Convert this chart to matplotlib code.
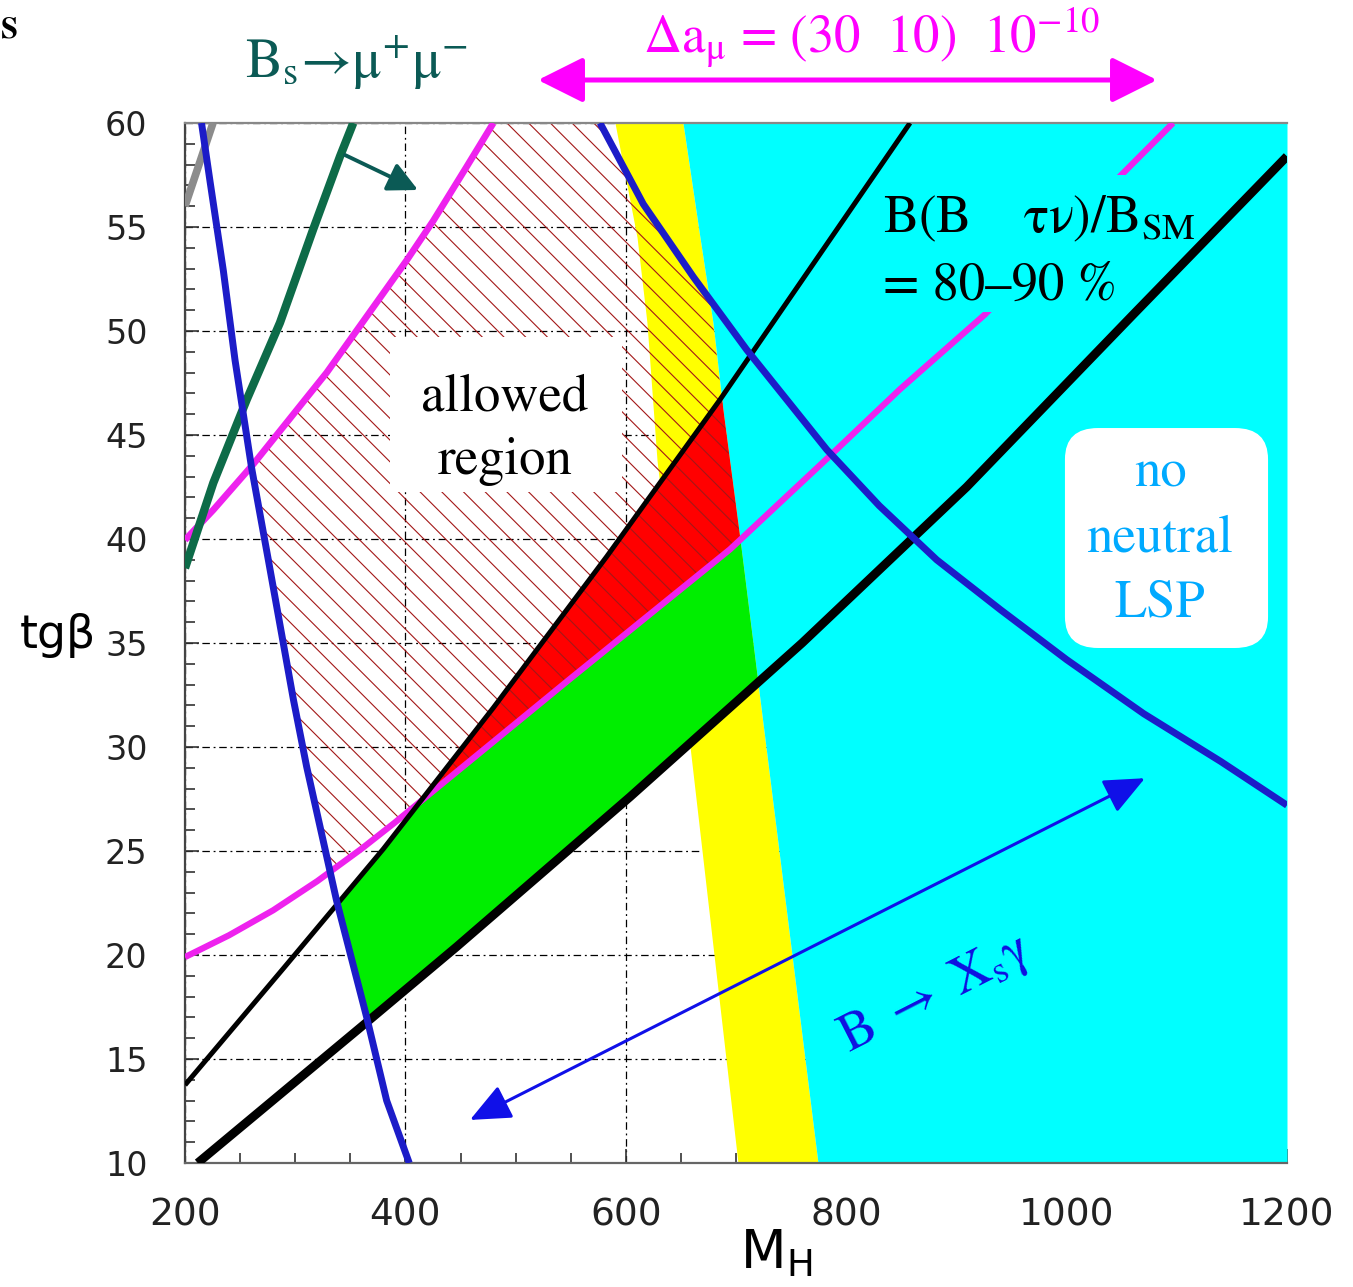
import numpy as np
import matplotlib
matplotlib.use('Agg')
import matplotlib.pyplot as plt
from matplotlib.collections import LineCollection
from matplotlib.patches import Polygon, Rectangle, FancyBboxPatch, FancyArrowPatch

plt.rcParams['mathtext.fontset'] = 'stix'
plt.rcParams['mathtext.default'] = 'regular'
SERIF = 'STIXGeneral'

# --- constraint curves in the (M_H, tan beta) plane ---
gray_m = [200.0, 225.4]
gray_tg = [56.0, 60.0]

bsmumu_m = [200.0, 225.7, 256.0, 286.2, 316.4, 340.7, 352.7]
bsmumu_tg = [38.6, 42.7, 46.7, 50.4, 54.9, 58.4, 60.0]

blue_left_m = [215.0, 222.7, 234.8, 245.4, 260.5, 275.6, 298.3, 310.4, 337.6, 364.9, 383.0, 403.5]
blue_left_tg = [60.0, 57.2, 52.9, 48.6, 43.4, 39.0, 32.3, 29.05, 22.6, 17.0, 13.0, 10.0]

blue_right_m = [576.6, 615.9, 661.3, 709.7, 782.3, 830.0, 882.1, 940.0, 1000.0, 1070.0, 1140.0, 1200.0]
blue_right_tg = [60.0, 56.1, 52.6, 49.1, 44.3, 41.6, 39.0, 36.6, 34.2, 31.6, 29.3, 27.2]

amu_up_m = [200.0, 225.7, 262.0, 292.3, 328.6, 364.9, 401.2, 425.3, 455.6, 479.8]
amu_up_tg = [39.95, 41.4, 43.6, 45.6, 48.0, 50.7, 53.4, 55.3, 57.9, 60.0]

amu_lo_m = [200.0, 240.0, 280.0, 320.0, 360.0, 390.0, 407.2, 550.0, 694.5, 703.6, 785.3, 848.8, 926.0, 1044.0, 1096.6]
amu_lo_tg = [19.9, 20.95, 22.15, 23.55, 25.1, 26.35, 27.1, 33.3, 39.5, 39.95, 44.0, 47.2, 50.8, 57.2, 60.0]

btaunu_up_m = [200.0, 290.0, 380.0, 480.0, 582.6, 685.5, 857.9]
btaunu_up_tg = [13.75, 19.4, 25.1, 31.9, 39.15, 46.7, 60.0]

btaunu_lo_m = [211.5, 367.9, 446.6, 603.8, 760.0, 909.3, 1060.6, 1200.0]
btaunu_lo_tg = [10.0, 16.9, 20.4, 27.6, 35.0, 42.5, 50.8, 58.4]

# yellow band edges (M as function of tan beta)
yel_left_tg = [10.0, 43.8, 50.4, 54.5, 60.0]
yel_left_m = [701.8, 628.3, 619.2, 610.2, 590.2]
yel_right_tg = [10.0, 40.0, 46.2, 50.4, 54.5, 60.0]
yel_right_m = [774.4, 703.6, 688.2, 679.1, 667.3, 651.9]

xticks = [200, 400, 600, 800, 1000, 1200]
yticks = [10, 15, 20, 25, 30, 35, 40, 45, 50, 55, 60]

W, H = 1353, 1287
fig = plt.figure(figsize=(W / 100, H / 100), dpi=100)
ax = fig.add_axes([185 / W, (H - 1163) / H, 1102 / W, 1040 / H])
ax.set_xlim(200, 1200)
ax.set_ylim(10, 60)

# background bands
tg = np.linspace(10, 60, 1001)
yl = np.interp(tg, yel_left_tg, yel_left_m)
yr = np.interp(tg, yel_right_tg, yel_right_m)
ax.fill_betweenx(tg, yl, yr, color='#ffff00', lw=0, zorder=1)
ax.fill_betweenx(tg, yr, 1200, color='#00ffff', lw=0, zorder=1)

# curves sampled on a fine grid for the shaded regions
m = np.linspace(200, 1200, 6001)
bl = np.interp(m, blue_left_m, blue_left_tg)
br = np.interp(m, blue_right_m, blue_right_tg)
au = np.interp(m, amu_up_m, amu_up_tg)
al = np.interp(m, amu_lo_m, amu_lo_tg)
tu = np.interp(m, btaunu_up_m, btaunu_up_tg)
tl = np.interp(m, btaunu_lo_m, btaunu_lo_tg)
ye = np.interp(m, yel_right_m[::-1], yel_right_tg[::-1])

lo = np.maximum(tl, bl)
hi = np.minimum(np.minimum(al, tu), ye)
ax.fill_between(m, lo, hi, where=hi > lo, color='#00ee00', lw=0, zorder=1.5)

lo = np.maximum(al, bl)
hi = np.minimum(tu, ye)
ax.fill_between(m, lo, hi, where=hi > lo, color='#ff0000', lw=0, zorder=1.5)

# hatched g-2 band
lo = np.maximum(al, bl)
hi = np.minimum(np.minimum(au, br), ye)
ok = hi > lo
verts = list(zip(m[ok], lo[ok])) + list(zip(m[ok][::-1], hi[ok][::-1]))
band = Polygon(verts, closed=True, fill=False, lw=0)
ax.add_patch(band)
cs = np.arange(0, 27, 0.217)
segs = [[(c - 14, 14), (c, 0)] for c in cs]
hatch = LineCollection(segs, colors='#a31818', linewidths=0.8,
                       transform=fig.dpi_scale_trans, zorder=2)
hatch.set_clip_path(band)
ax.add_collection(hatch)

# white label box
ax.add_patch(Rectangle((0.186, 0.645), 0.211, 0.149, transform=ax.transAxes,
                       fc='white', ec='none', zorder=2.2))

# lines
ax.plot(amu_up_m, amu_up_tg, color='#ee22ee', lw=4.8, zorder=3, solid_capstyle='butt')
ax.plot(amu_lo_m, amu_lo_tg, color='#ee22ee', lw=4.5, zorder=3, solid_capstyle='butt')
ax.add_patch(Rectangle((0.624, 0.818), 0.279, 0.132, transform=ax.transAxes,
                       fc='#00ffff', ec='none', zorder=3.2))
ax.plot(gray_m, gray_tg, color='#8c8c8c', lw=5.5, zorder=3.5, solid_capstyle='butt')
ax.plot(bsmumu_m, bsmumu_tg, color='#0d6b48', lw=6.0, zorder=3.5, solid_capstyle='butt')
ax.plot(btaunu_up_m, btaunu_up_tg, color='black', lw=3.6, zorder=4, solid_capstyle='butt')
ax.plot(btaunu_lo_m, btaunu_lo_tg, color='black', lw=6.3, zorder=4, solid_capstyle='butt')
ax.plot(blue_left_m, blue_left_tg, color='#1c1cc8', lw=5.0, zorder=4.5, solid_capstyle='butt')
ax.plot(blue_right_m, blue_right_tg, color='#1c1cc8', lw=5.0, zorder=4.5, solid_capstyle='butt')

# axes cosmetics
ax.set_xticks(xticks)
ax.set_xticks(np.arange(200, 1201, 50), minor=True)
ax.set_yticks(yticks)
ax.set_yticks(np.arange(10, 61, 1), minor=True)
ax.set_axisbelow(True)
ax.grid(True, which='major', color='black', lw=0.9, linestyle=(0, (6, 3, 1.5, 3)))
ax.tick_params(which='both', direction='in', color='#333333', width=1.2)
ax.tick_params(which='major', length=10)
ax.tick_params(which='minor', length=7)
ax.tick_params(axis='y', labelsize=24, pad=27, labelcolor='#222222')
ax.tick_params(axis='x', labelsize=27, pad=25, labelcolor='#222222')
for lab in ax.get_xticklabels() + ax.get_yticklabels():
    lab.set_family('DejaVu Sans')
ax.spines['right'].set_visible(False)
ax.spines['left'].set_color('#444444')
ax.spines['bottom'].set_color('#666666')
ax.spines['top'].set_color('#888888')
for s in ('left', 'bottom', 'top'):
    ax.spines[s].set_linewidth(1.6)

fig.text(20 / W, (H - 648) / H, 'tgβ', fontsize=33, family='DejaVu Sans', va='baseline')
fig.text(740 / W, (H - 1268) / H, r'M$_{\mathrm{H}}$', fontsize=38, family='DejaVu Sans',
         math_fontfamily='dejavusans', va='baseline')
fig.text(1 / W, (H - 38) / H, 'S', fontsize=22, family=SERIF, weight='bold',
         ha='left', va='baseline')

# labels in the plane
ax.text(490.4, 45.24, 'allowed\nregion', fontsize=38, family=SERIF, ha='center',
        va='center', linespacing=1.38, zorder=6)
ax.add_patch(FancyBboxPatch((0.7985, 0.4952), 0.1843, 0.2115, transform=ax.transAxes,
                            boxstyle='round,pad=0,rounding_size=0.03',
                            fc='white', ec='none', zorder=5))
ax.text(1084.8, 40.0, 'no\nneutral\nLSP', fontsize=38, family=SERIF, color='#00aaff',
        ha='center', va='center', linespacing=1.42, zorder=6)
ax.text(833.4, 54.76, r'B(B    $\mathrm{τν}$)/B$_{\mathrm{SM}}$', fontsize=38, family=SERIF,
        va='baseline', zorder=6)
ax.text(833.4, 51.5, '= 80–90 %', fontsize=38, family=SERIF, va='baseline', zorder=6)
ax.text(880.6, 18.1, r'B $\rightarrow$ $\mathrm{X_{s}γ}$', fontsize=38, family=SERIF,
        color='#1010e0', rotation=27, rotation_mode='anchor', ha='center', va='center',
        zorder=6)

ax.annotate('', xy=(458.6, 12.07), xytext=(1071.1, 28.5),
            arrowprops=dict(arrowstyle='<|-|>,head_length=1.25,head_width=0.55',
                            color='#1010e8', lw=2.2, mutation_scale=20,
                            shrinkA=0, shrinkB=0), zorder=7)
ax.annotate('', xy=(411.4, 56.78), xytext=(345.2, 58.46),
            arrowprops=dict(arrowstyle='-|>,head_length=0.9,head_width=0.45',
                            color='#0b5a55', lw=2.8, mutation_scale=20,
                            shrinkA=0, shrinkB=0), zorder=7)

# headers above the frame
fig.text(356 / W, (H - 78) / H, r'B$_{\mathrm{s}}$→$\mathrm{μ^{+}μ^{-}}$', fontsize=40,
         family=SERIF, color='#0b5a55', ha='center', va='baseline')
fig.text(871 / W, (H - 52) / H, r'Δa$_{\mathrm{μ}}$ = (30  10)  10$^{\mathrm{-10}}$',
         fontsize=38, family=SERIF, color='#ff00ff', ha='center', va='baseline')
fig.patches.append(FancyArrowPatch(
    (538 / W, (H - 80) / H), (1157 / W, (H - 80) / H), transform=fig.transFigure,
    arrowstyle='<|-|>,head_length=1.4,head_width=0.7', mutation_scale=20,
    color='#ff00ff', lw=3.6, shrinkA=0, shrinkB=0))

fig.savefig('out.png', dpi=100)
